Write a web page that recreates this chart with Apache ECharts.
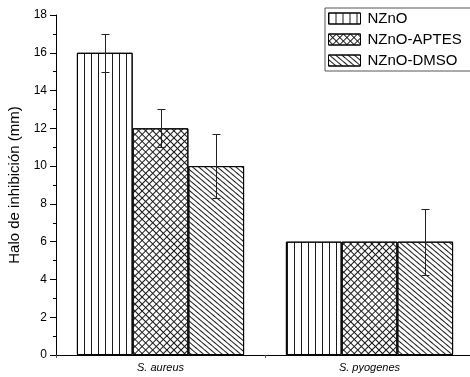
<!DOCTYPE html>
<html>
<head>
<meta charset="utf-8">
<script src="https://cdn.jsdelivr.net/npm/echarts@6/dist/echarts.min.js"></script>
<style>
html,body{margin:0;padding:0;background:#fff;}
#chart{width:470px;height:377px;}
</style>
</head>
<body>
<div id="chart"></div>
<script>
// ---- data ----
const categories = ['S. aureus', 'S. pyogenes'];
const seriesNames = ['NZnO', 'NZnO-APTES', 'NZnO-DMSO'];
const valuesNZnO = [16, 6];
const valuesAPTES = [12, 6];
const valuesDMSO = [10, 6];
const errorsNZnO = [1, 0];
const errorsAPTES = [1, 0];
const errorsDMSO = [1.7, 1.75];
const yTicks = [0, 2, 4, 6, 8, 10, 12, 14, 16, 18];

const values = [valuesNZnO, valuesAPTES, valuesDMSO];
const errors = [errorsNZnO, errorsAPTES, errorsDMSO];

const lineColor = '#1a1a1a';
const decals = [
  { symbol: 'rect', symbolSize: 1, dashArrayX: [1, 6], dashArrayY: [1, 0], color: lineColor, rotation: 0 },
  { symbol: 'rect', symbolSize: 1, dashArrayX: [[5, 0], [1, 4], [1, 4], [1, 4], [1, 4]], dashArrayY: [1, 0], color: lineColor, rotation: Math.PI / 4 },
  { symbol: 'rect', symbolSize: 1, dashArrayX: [1, 3], dashArrayY: [1, 0], color: lineColor, rotation: -0.87 }
];

const BAR_GAP_CAT = 0.2;

const barSeries = seriesNames.map((name, j) => ({
  name: name,
  type: 'bar',
  data: values[j],
  barGap: '0%',
  barCategoryGap: (BAR_GAP_CAT * 100) + '%',
  itemStyle: { color: '#fff', borderColor: '#000', borderWidth: 1, decal: decals[j] },
  emphasis: { disabled: true },
  z: 2
}));

const errData = [];
for (let j = 0; j < values.length; j++) {
  for (let i = 0; i < categories.length; i++) {
    errData.push([i, values[j][i], errors[j][i], j]);
  }
}

const errorSeries = {
  type: 'custom',
  name: 'err',
  z: 5,
  silent: true,
  data: errData,
  renderItem: function (params, api) {
    const ci = api.value(0), v = api.value(1), e = api.value(2), sj = api.value(3);
    if (!e) return { type: 'group', children: [] };
    const bandW = api.size([1, 0])[0];
    const barW = bandW * (1 - BAR_GAP_CAT) / values.length;
    const cx = Math.round(api.coord([ci, v])[0] + (sj - (values.length - 1) / 2) * barW) + 0.5;
    const yTop = Math.round(api.coord([ci, v + e])[1]) + 0.5;
    const yBot = Math.round(api.coord([ci, v - e])[1]) + 0.5;
    const cap = 4;
    const st = { stroke: '#222', lineWidth: 1 };
    return {
      type: 'group',
      children: [
        { type: 'line', shape: { x1: cx, y1: yTop, x2: cx, y2: yBot }, style: st },
        { type: 'line', shape: { x1: cx - cap, y1: yTop, x2: cx + cap, y2: yTop }, style: st },
        { type: 'line', shape: { x1: cx - cap, y1: yBot, x2: cx + cap, y2: yBot }, style: st }
      ]
    };
  }
};

const chart = echarts.init(document.getElementById('chart'), null, { renderer: 'canvas' });
chart.setOption({
  animation: false,
  backgroundColor: '#fff',
  textStyle: { fontFamily: 'Arial, "Liberation Sans", sans-serif' },
  grid: { left: 56, top: 15, right: -4, bottom: 22, containLabel: false, outerBoundsMode: 'none' },
  legend: {
    data: seriesNames,
    orient: 'vertical',
    icon: 'rect',
    left: 325,
    top: 8,
    width: 144,
    padding: [3, 20, 3, 3],
    itemWidth: 32,
    itemHeight: 11,
    itemGap: 6,
    borderColor: '#555',
    borderWidth: 1,
    textStyle: { fontSize: 15, color: '#000', fontFamily: 'Arial, "Liberation Sans", sans-serif', padding: [0, 0, 0, 2] },
    itemStyle: { borderColor: '#000', borderWidth: 1 },
    selectedMode: false
  },
  xAxis: {
    type: 'category',
    data: categories,
    axisLine: { show: true, lineStyle: { color: '#000', width: 1 } },
    axisTick: { show: true, length: 3, inside: false, lineStyle: { color: '#555' } },
    axisLabel: { fontSize: 11, fontStyle: 'italic', color: '#000', margin: 7 },
    splitLine: { show: false }
  },
  yAxis: {
    type: 'value',
    min: yTicks[0],
    max: yTicks[yTicks.length - 1],
    interval: yTicks[1] - yTicks[0],
    name: 'Halo de inhibición (mm)',
    nameLocation: 'middle',
    nameRotate: 90,
    nameGap: 34,
    nameTextStyle: { fontSize: 15, color: '#000' },
    axisLine: { show: true, lineStyle: { color: '#000', width: 1 } },
    axisTick: { show: true, length: 6, inside: false, lineStyle: { color: '#000' } },
    minorTick: { show: true, splitNumber: 2, length: 3, lineStyle: { color: '#000' } },
    axisLabel: { fontSize: 12, color: '#000', margin: 9 },
    splitLine: { show: false }
  },
  series: barSeries.concat([errorSeries])
});
</script>
</body>
</html>
